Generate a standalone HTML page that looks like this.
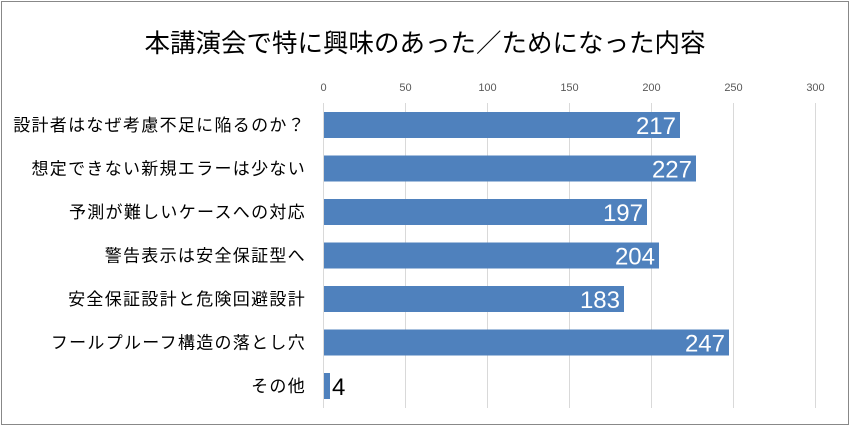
<!DOCTYPE html>
<html><head><meta charset="utf-8"><style>
body{margin:0;background:#fff}
</style></head><body>
<svg width="858" height="435" xmlns="http://www.w3.org/2000/svg" font-family="'Liberation Sans','Noto Sans CJK JP',sans-serif">
<rect x="0" y="0" width="858" height="435" fill="#fff"/>
<rect x="1.5" y="1.5" width="847" height="423" fill="#fff" stroke="#888" stroke-width="1"/>
<text x="425" y="52" font-size="25.5" text-anchor="middle" fill="#000">本講演会で特に興味のあった／ためになった内容</text>
<g stroke="#d9d9d9" stroke-width="1">
<line x1="323.5" y1="103" x2="323.5" y2="408"/>
<line x1="405.5" y1="103" x2="405.5" y2="408"/>
<line x1="487.5" y1="103" x2="487.5" y2="408"/>
<line x1="569.5" y1="103" x2="569.5" y2="408"/>
<line x1="651.5" y1="103" x2="651.5" y2="408"/>
<line x1="733.5" y1="103" x2="733.5" y2="408"/>
<line x1="815.5" y1="103" x2="815.5" y2="408"/>
</g>
<g font-size="11" fill="#595959" text-anchor="middle">
<text x="323.5" y="91">0</text><text x="405.5" y="91">50</text><text x="487.5" y="91">100</text>
<text x="569.5" y="91">150</text><text x="651.5" y="91">200</text><text x="733.5" y="91">250</text><text x="815.5" y="91">300</text>
</g>
<g fill="#4f81bd">
<rect x="324" y="112" width="356" height="26"/>
<rect x="324" y="155.5" width="372" height="26"/>
<rect x="324" y="199" width="323" height="26"/>
<rect x="324" y="242.5" width="335" height="26"/>
<rect x="324" y="286" width="300" height="26"/>
<rect x="324" y="329.5" width="405" height="26"/>
<rect x="324" y="373" width="6" height="26"/>
</g>
<g font-size="24" fill="#fff" text-anchor="end">
<text x="676" y="134">217</text>
<text x="692" y="177.5">227</text>
<text x="643" y="221">197</text>
<text x="655" y="264.5">204</text>
<text x="620" y="308">183</text>
<text x="725" y="351.5">247</text>
</g>
<text x="332" y="395" font-size="24" fill="#000">4</text>
<g font-size="17" fill="#000" text-anchor="end" letter-spacing="1.3">
<text x="306" y="131">設計者はなぜ考慮不足に陥るのか？</text>
<text x="306" y="174.5">想定できない新規エラーは少ない</text>
<text x="306" y="218">予測が難しいケースへの対応</text>
<text x="306" y="261.5">警告表示は安全保証型へ</text>
<text x="306" y="305">安全保証設計と危険回避設計</text>
<text x="306" y="348.5">フールプルーフ構造の落とし穴</text>
<text x="306" y="392">その他</text>
</g>
</svg>
</body></html>
